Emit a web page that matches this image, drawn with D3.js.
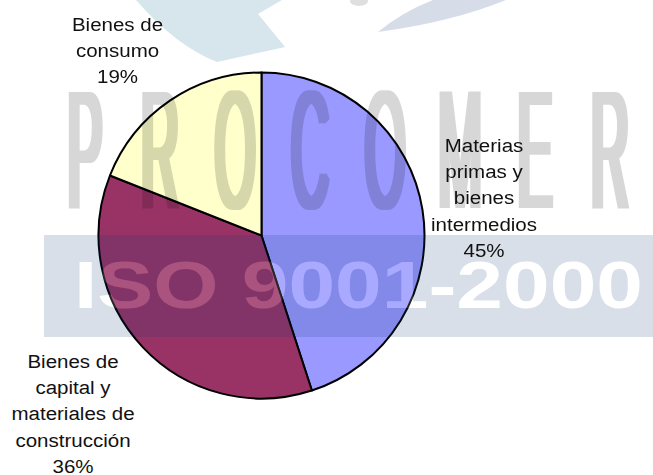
<!DOCTYPE html>
<html><head><meta charset="utf-8">
<script src="https://cdn.jsdelivr.net/npm/d3@7"></script>
<style>html,body{margin:0;padding:0;background:#fff;}svg{display:block;}</style>
</head><body>
<svg id="chart" width="653" height="475"></svg>
<script>
// ---- data ----
const categories = ["Materias primas y bienes intermedios", "Bienes de capital y materiales de construcción", "Bienes de consumo"];
const values = [45, 36, 19];
const percentLabels = ["45%", "36%", "19%"];
const labelLines = [
  ["Materias", "primas y", "bienes", "intermedios"],
  ["Bienes de", "capital y", "materiales de", "construcción"],
  ["Bienes de", "consumo"]
];
const colors = ["#9999FF", "#993366", "#FFFFCC"];
const watermarkLetters = ["P","R","O","C","O","M","E","R"];
const watermarkBand = "ISO 9001-2000";

const svg = d3.select("#chart");
const W = 653, H = 475;
const cx = 261.5, cy = 235.5, r = 163;

const defs = svg.append("defs");
const f = defs.append("filter").attr("id", "thick")
  .attr("x", "-10%").attr("y", "-10%").attr("width", "120%").attr("height", "120%");
f.append("feMorphology").attr("operator", "dilate").attr("radius", "3 0.3");

// ---- pie ----
const pie = d3.pie().sort(null).value(d => d)(values);
const arc = d3.arc().innerRadius(0).outerRadius(r);
const gPie = svg.append("g").attr("transform", `translate(${cx},${cy})`);
gPie.selectAll("path").data(pie).join("path")
  .attr("d", arc)
  .attr("fill", (d,i) => colors[i])
  .attr("stroke", "#000")
  .attr("stroke-width", 2)
  .attr("stroke-linejoin", "round");

// ---- watermark overlay ----
const wm = svg.append("g").attr("opacity", 0.16);
// swooshes
wm.append("path").attr("d", "M136,0 Q176,46 217,62 L285,47 L258,14 L282,0 Z").attr("fill", "#005C88");
wm.append("path").attr("d", "M378,32 Q402,12 433,0 L506,0 Q452,22 378,32 Z").attr("fill", "#002A6F");
wm.append("ellipse").attr("cx", 359).attr("cy", 1).attr("rx", 9).attr("ry", 5).attr("fill", "#333");
// letters
const letterX = d3.scaleLinear().domain([0, watermarkLetters.length - 1]).range([85, 610]);
const gLetters = wm.append("g").attr("filter", "url(#thick)");
gLetters.selectAll("text.wl").data(watermarkLetters).join("text")
  .attr("class", "wl")
  .attr("transform", (d,i) => `translate(${letterX(i)},208) scale(0.31,1)`)
  .attr("text-anchor", "middle")
  .attr("font-family", "Liberation Sans, Arial, sans-serif")
  .attr("font-size", 169)
  .attr("fill", "#000")
  .text(d => d);
// band
wm.append("rect").attr("x", 44).attr("y", 235).attr("width", W - 44).attr("height", 102).attr("fill", "#0B376F");
wm.append("text")
  .attr("x", 74).attr("y", 308)
  .attr("font-family", "Liberation Sans, Arial, sans-serif")
  .attr("font-weight", "bold")
  .attr("font-size", 67)
  .attr("textLength", 569)
  .attr("lengthAdjust", "spacingAndGlyphs")
  .attr("fill", "#fff")
  .text(watermarkBand);

// ---- labels ----
const labelPos = [
  {x: 484, y: 152},
  {x: 73, y: 368},
  {x: 117.5, y: 31}
];
const lh = 26.2;
const gLab = svg.append("g");
pie.forEach((p, i) => {
  const lines = labelLines[i].concat([percentLabels[i]]);
  const t = gLab.append("text")
    .attr("transform", `translate(${labelPos[i].x},${labelPos[i].y}) scale(1.08,1)`)
    .attr("text-anchor", "middle")
    .attr("font-family", "Liberation Sans, Arial, sans-serif")
    .attr("font-size", 19)
    .attr("fill", "#111");
  lines.forEach((l, j) => t.append("tspan").attr("x", 0).attr("y", j * lh).text(l));
});
</script>
</body></html>
